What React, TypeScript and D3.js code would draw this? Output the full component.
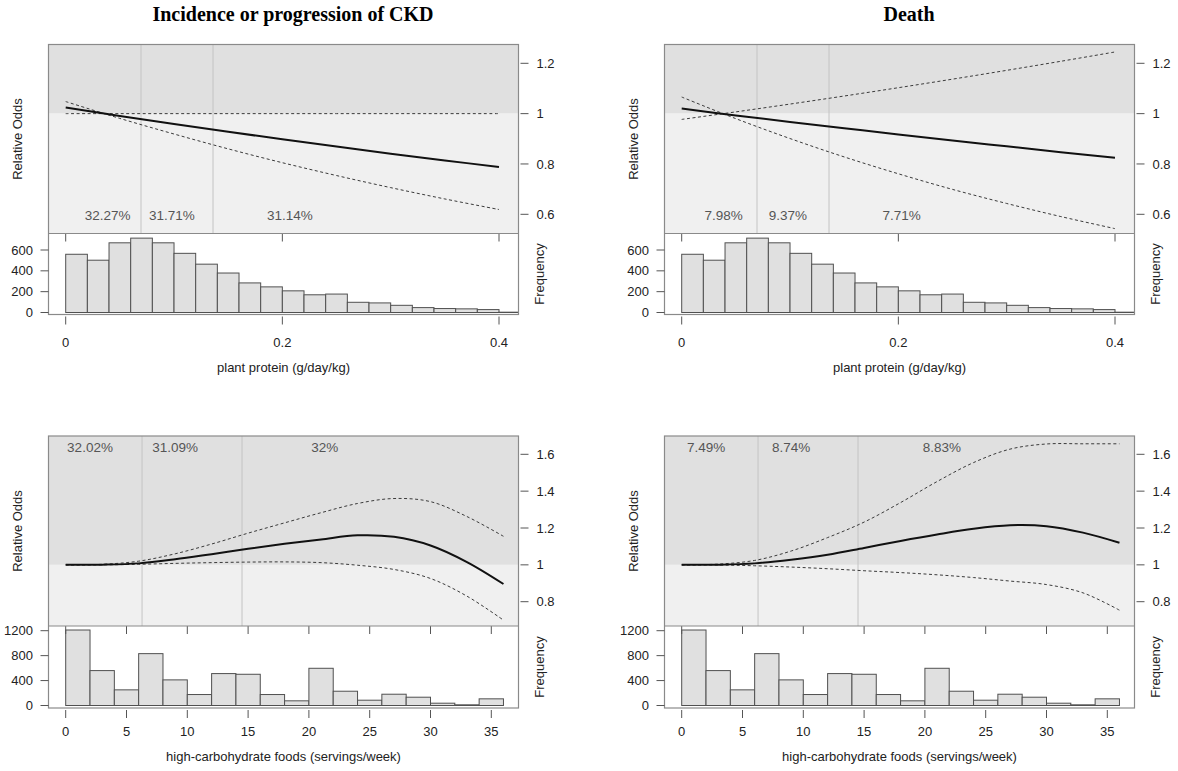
import React from 'react';
import * as d3 from 'd3';

// ---------- DATA ----------
const proteinX = [0, 0.05, 0.1, 0.15, 0.2, 0.25, 0.3, 0.35, 0.4];
const ckdProteinEst = [1.024, 0.991, 0.959, 0.928, 0.898, 0.869, 0.841, 0.814, 0.788];
const ckdProteinLower = [1.048, 0.981, 0.919, 0.86, 0.805, 0.754, 0.706, 0.661, 0.619];
const ckdProteinUpper = [1.0, 1.0, 1.0, 1.0, 1.0, 1.0, 1.0, 1.0, 1.0];
const deathProteinEst = [1.02, 0.993, 0.967, 0.942, 0.917, 0.893, 0.87, 0.847, 0.825];
const deathProteinLower = [1.066, 0.98, 0.901, 0.828, 0.761, 0.699, 0.643, 0.591, 0.543];
const deathProteinUpper = [0.977, 1.007, 1.038, 1.07, 1.103, 1.137, 1.172, 1.208, 1.245];

const carbX = [0, 3, 6, 9, 12, 15, 18, 21, 24, 27, 30, 33, 36];
const ckdCarbEst = [1.0, 1.001, 1.008, 1.03, 1.058, 1.087, 1.114, 1.138, 1.16, 1.152, 1.105, 1.015, 0.896];
const ckdCarbUpper = [1.0, 1.003, 1.02, 1.06, 1.113, 1.172, 1.228, 1.283, 1.333, 1.36, 1.343, 1.262, 1.155];
const ckdCarbLower = [1.0, 1.0, 1.003, 1.008, 1.012, 1.015, 1.016, 1.012, 0.998, 0.975, 0.926, 0.83, 0.7];
const deathCarbEst = [1.0, 1.001, 1.008, 1.028, 1.055, 1.092, 1.13, 1.165, 1.196, 1.215, 1.21, 1.175, 1.12];
const deathCarbUpper = [1.0, 1.004, 1.024, 1.075, 1.148, 1.232, 1.338, 1.452, 1.555, 1.628, 1.656, 1.657, 1.657];
const deathCarbLower = [1.0, 0.999, 0.995, 0.988, 0.979, 0.968, 0.958, 0.946, 0.931, 0.912, 0.893, 0.848, 0.754];

const proteinBinWidth = 0.02;
const proteinCounts = [559, 502, 669, 714, 669, 568, 464, 379, 284, 246, 208, 170, 177, 98, 92, 69, 47, 38, 35, 28, 3];
const carbBinWidth = 2;
const carbCounts = [1211, 560, 251, 832, 411, 176, 512, 501, 176, 75, 597, 229, 85, 181, 133, 37, 11, 107];

const proteinCuts = [0.0695, 0.136];
const carbCuts = [6.28, 14.5];

const ckdProteinPct = ['32.27%', '31.71%', '31.14%'];
const ckdProteinPctAt = [0.0388, 0.098, 0.207];
const deathProteinPct = ['7.98%', '9.37%', '7.71%'];
const deathProteinPctAt = [0.0388, 0.098, 0.203];
const ckdCarbPct = ['32.02%', '31.09%', '32%'];
const ckdCarbPctAt = [2.0, 9.0, 21.3];
const deathCarbPct = ['7.49%', '8.74%', '8.83%'];
const deathCarbPctAt = [2.0, 9.0, 21.4];

const proteinXTicks = [0, 0.2, 0.4];
const carbXTicks = [0, 5, 10, 15, 20, 25, 30, 35];
const proteinOddsTicks = [0.6, 0.8, 1, 1.2];
const carbOddsTicks = [0.8, 1, 1.2, 1.4, 1.6];
const proteinFreqTicks = [0, 200, 400, 600];
const carbFreqTicks = [0, 400, 800, 1200];

const titles = ['Incidence or progression of CKD', 'Death'];
const proteinLabel = 'plant protein (g/day/kg)';
const carbLabel = 'high-carbohydrate foods (servings/week)';

// ---------- LAYOUT ----------
const W = 1178;
const H = 771;
const COL_OFFSET = 616;
const BOX_L = 48.5;
const BOX_R = 518.5;
const SANS = '"Liberation Sans", Arial, Helvetica, sans-serif';

type RowLayout = {
  boxTop: number; split: number; boxBottom: number;
  yDom: [number, number]; yRange: [number, number];
  hDom: [number, number]; hRange: [number, number];
  xDom: [number, number]; xRange: [number, number];
  pctY: number; tickLabelY: number; axisTitleY: number;
};

const topRow: RowLayout = {
  boxTop: 44.5, split: 233.5, boxBottom: 314.5,
  yDom: [0.6, 1.2], yRange: [214.3, 63.3],
  hDom: [0, 600], hRange: [312.5, 250],
  xDom: [0, 0.4], xRange: [65.7, 499],
  pctY: 215, tickLabelY: 342, axisTitleY: 367,
};
const bottomRow: RowLayout = {
  boxTop: 436, split: 626, boxBottom: 708,
  yDom: [0.8, 1.6], yRange: [601.7, 454.3],
  hDom: [0, 1200], hRange: [705.5, 630.7],
  xDom: [0, 35], xRange: [65.7, 491.3],
  pctY: 447.5, tickLabelY: 731.5, axisTitleY: 756.5,
};

type PanelProps = {
  id: string; ox: number; row: RowLayout;
  xs: number[]; est: number[]; lower: number[]; upper: number[];
  counts: number[]; binWidth: number; cuts: number[];
  pct: string[]; pctAt: number[];
  xTicks: number[]; oddsTicks: number[]; freqTicks: number[];
  xLabel: string; title?: string;
};

function Panel(p: PanelProps) {
  const { row, ox } = p;
  const x = d3.scaleLinear().domain(row.xDom).range([row.xRange[0] + ox, row.xRange[1] + ox]);
  const y = d3.scaleLinear().domain(row.yDom).range(row.yRange);
  const hy = d3.scaleLinear().domain(row.hDom).range(row.hRange);
  const left = BOX_L + ox;
  const right = BOX_R + ox;
  const line = d3
    .line<number>()
    .x((_, i) => x(p.xs[i]))
    .y((v) => y(v))
    .curve(d3.curveCatmullRom.alpha(0.5));
  const y1 = y(1);
  const fmt = (v: number) => String(v);
  const clipU = `clipU-${p.id}`;
  const clipH = `clipH-${p.id}`;
  return (
    <g>
      <defs>
        <clipPath id={clipU}>
          <rect x={left} y={row.boxTop} width={right - left} height={row.split - row.boxTop} />
        </clipPath>
        <clipPath id={clipH}>
          <rect x={left} y={row.split} width={right - left} height={row.boxBottom - row.split} />
        </clipPath>
      </defs>
      {p.title && (
        <text x={(left + right) / 2 + 9.5} y={20.5} textAnchor="middle"
          fontFamily='"Liberation Serif", "Times New Roman", serif' fontWeight="bold" fontSize={20}>
          {p.title}
        </text>
      )}
      {/* upper region backgrounds */}
      <rect x={left} y={row.boxTop} width={right - left} height={y1 - row.boxTop} fill="#e0e0e0" />
      <rect x={left} y={y1} width={right - left} height={row.split - y1} fill="#f0f0f0" />
      <rect x={left} y={row.split} width={right - left} height={row.boxBottom - row.split} fill="#ffffff" />
      {/* cut lines */}
      {p.cuts.map((c, i) => (
        <line key={i} x1={x(c)} x2={x(c)} y1={row.boxTop} y2={row.split} stroke="#c4c4c4" strokeWidth={1} />
      ))}
      {/* percentages */}
      {p.pct.map((t, i) => (
        <text key={i} x={x(p.pctAt[i])} y={row.pctY} dy="0.35em" textAnchor="middle"
          fontFamily={SANS} fontSize={13.5} fill="#555555">
          {t}
        </text>
      ))}
      {/* curves */}
      <g clipPath={`url(#${clipU})`}>
        <path d={line(p.upper) ?? ''} fill="none" stroke="#3a3a3a" strokeWidth={1} strokeDasharray="3,2.5" />
        <path d={line(p.lower) ?? ''} fill="none" stroke="#3a3a3a" strokeWidth={1} strokeDasharray="3,2.5" />
        <path d={line(p.est) ?? ''} fill="none" stroke="#111111" strokeWidth={2} />
      </g>
      {/* histogram */}
      <g clipPath={`url(#${clipH})`}>
        {p.counts.map((c, i) => {
          const x0 = x(i * p.binWidth);
          const x1 = x((i + 1) * p.binWidth);
          return (
            <rect key={i} x={x0} y={hy(c)} width={x1 - x0} height={hy(0) - hy(c)}
              fill="#e0e0e0" stroke="#505050" strokeWidth={1} />
          );
        })}
      </g>
      {/* inner top ticks of histogram */}
      {p.xTicks.map((t, i) => (
        <line key={i} x1={x(t)} x2={x(t)} y1={row.split} y2={row.split + 8} stroke="#555555" strokeWidth={1} />
      ))}
      {/* box */}
      <rect x={left} y={row.boxTop} width={right - left} height={row.boxBottom - row.boxTop}
        fill="none" stroke="#8a8a8a" strokeWidth={1.2} />
      <line x1={left} x2={right} y1={row.split} y2={row.split} stroke="#8a8a8a" strokeWidth={1.2} />
      {/* bottom x axis */}
      {p.xTicks.map((t, i) => (
        <g key={i}>
          <line x1={x(t)} x2={x(t)} y1={row.boxBottom + 2} y2={row.boxBottom + 10} stroke="#555555" strokeWidth={1} />
          <text x={x(t)} y={row.tickLabelY} dy="0.35em" textAnchor="middle" fontFamily={SANS} fontSize={13} fill="#222">
            {fmt(t)}
          </text>
        </g>
      ))}
      <text x={(left + right) / 2} y={row.axisTitleY} dy="0.35em" textAnchor="middle" fontFamily={SANS} fontSize={13} fill="#222">
        {p.xLabel}
      </text>
      {/* right odds axis */}
      {p.oddsTicks.map((t, i) => (
        <g key={i}>
          <line x1={right + 2} x2={right + 10} y1={y(t)} y2={y(t)} stroke="#555555" strokeWidth={1} />
          <text x={right + 18} y={y(t)} dy="0.35em" textAnchor="start" fontFamily={SANS} fontSize={13} fill="#222">
            {fmt(t)}
          </text>
        </g>
      ))}
      {/* left frequency axis */}
      {p.freqTicks.map((t, i) => (
        <g key={i}>
          <line x1={left - 8} x2={left} y1={hy(t)} y2={hy(t)} stroke="#555555" strokeWidth={1} />
          <text x={left - 15.5} y={hy(t)} dy="0.35em" textAnchor="end" fontFamily={SANS} fontSize={13} fill="#222">
            {fmt(t)}
          </text>
        </g>
      ))}
      {/* axis titles */}
      <text transform={`translate(${17 + ox},${(row.boxTop + row.split) / 2}) rotate(-90)`} dy="0.35em"
        textAnchor="middle" fontFamily={SANS} fontSize={13} fill="#222">
        Relative Odds
      </text>
      <text transform={`translate(${539.5 + ox},${(row.split + row.boxBottom) / 2}) rotate(-90)`} dy="0.35em"
        textAnchor="middle" fontFamily={SANS} fontSize={13} fill="#222">
        Frequency
      </text>
    </g>
  );
}

export default function App() {
  return (
    <svg width={W} height={H} viewBox={`0 0 ${W} ${H}`}
      style={{ position: 'absolute', left: 0, top: 0, background: '#ffffff' }}>
      <rect x={0} y={0} width={W} height={H} fill="#ffffff" />
      <Panel id="tl" ox={0} row={topRow} xs={proteinX} est={ckdProteinEst} lower={ckdProteinLower} upper={ckdProteinUpper}
        counts={proteinCounts} binWidth={proteinBinWidth} cuts={proteinCuts} pct={ckdProteinPct} pctAt={ckdProteinPctAt}
        xTicks={proteinXTicks} oddsTicks={proteinOddsTicks} freqTicks={proteinFreqTicks} xLabel={proteinLabel} title={titles[0]} />
      <Panel id="tr" ox={COL_OFFSET} row={topRow} xs={proteinX} est={deathProteinEst} lower={deathProteinLower} upper={deathProteinUpper}
        counts={proteinCounts} binWidth={proteinBinWidth} cuts={proteinCuts} pct={deathProteinPct} pctAt={deathProteinPctAt}
        xTicks={proteinXTicks} oddsTicks={proteinOddsTicks} freqTicks={proteinFreqTicks} xLabel={proteinLabel} title={titles[1]} />
      <Panel id="bl" ox={0} row={bottomRow} xs={carbX} est={ckdCarbEst} lower={ckdCarbLower} upper={ckdCarbUpper}
        counts={carbCounts} binWidth={carbBinWidth} cuts={carbCuts} pct={ckdCarbPct} pctAt={ckdCarbPctAt}
        xTicks={carbXTicks} oddsTicks={carbOddsTicks} freqTicks={carbFreqTicks} xLabel={carbLabel} />
      <Panel id="br" ox={COL_OFFSET} row={bottomRow} xs={carbX} est={deathCarbEst} lower={deathCarbLower} upper={deathCarbUpper}
        counts={carbCounts} binWidth={carbBinWidth} cuts={carbCuts} pct={deathCarbPct} pctAt={deathCarbPctAt}
        xTicks={carbXTicks} oddsTicks={carbOddsTicks} freqTicks={carbFreqTicks} xLabel={carbLabel} />
    </svg>
  );
}
